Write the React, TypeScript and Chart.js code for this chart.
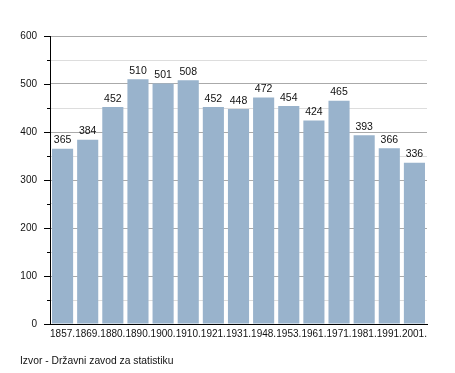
import React, { useEffect, useRef } from "react";
import { Chart, registerables } from "chart.js";

Chart.register(...registerables);

const categories = ["1857.", "1869.", "1880.", "1890.", "1900.", "1910.", "1921.", "1931.", "1948.", "1953.", "1961.", "1971.", "1981.", "1991.", "2001."];
const population = [365, 384, 452, 510, 501, 508, 452, 448, 472, 454, 424, 465, 393, 366, 336];
const sourceNote = "Izvor - Državni zavod za statistiku";
const FONT = "'Liberation Sans', Arial, sans-serif";

const extras = {
  id: "extras",
  afterDatasetsDraw(chart: any) {
    const ctx = chart.ctx;
    const meta = chart.getDatasetMeta(0);
    ctx.save();
    ctx.font = `10.5px ${FONT}`;
    ctx.fillStyle = "#111";
    ctx.textAlign = "center";
    ctx.textBaseline = "bottom";
    meta.data.forEach((el: any, i: number) => {
      ctx.fillText(String(population[i]), el.x, el.y - 3);
    });
    ctx.restore();
  },
  afterDraw(chart: any) {
    const ctx = chart.ctx;
    const y = chart.scales.y;
    const left = chart.chartArea.left;
    ctx.save();
    ctx.strokeStyle = "#000";
    ctx.lineWidth = 1;
    y.ticks.forEach((t: any) => {
      const py = Math.round(y.getPixelForValue(t.value)) + 0.5;
      const len = t.value % 100 === 0 ? 6 : 3;
      ctx.beginPath();
      ctx.moveTo(left - len, py);
      ctx.lineTo(left, py);
      ctx.stroke();
    });
    ctx.font = `10.3px ${FONT}`;
    ctx.fillStyle = "#111";
    ctx.textAlign = "left";
    ctx.textBaseline = "middle";
    ctx.fillText(sourceNote, 20, 361);
    ctx.restore();
  },
};

export default function App() {
  const ref = useRef<HTMLCanvasElement>(null);
  useEffect(() => {
    const chart = new Chart(ref.current as HTMLCanvasElement, {
      type: "bar",
      data: {
        labels: categories,
        datasets: [
          {
            data: population,
            backgroundColor: "#99B3CC",
            borderWidth: 0,
            barPercentage: 0.84,
            categoryPercentage: 1,
          },
        ],
      },
      options: {
        responsive: false,
        animation: false,
        layout: { padding: { top: 36, right: 28, bottom: 29, left: 0 } },
        plugins: { legend: { display: false }, tooltip: { enabled: false } },
        scales: {
          x: {
            grid: { display: false, drawTicks: false },
            border: { display: true, color: "#000", width: 1 },
            ticks: {
              autoSkip: false,
              maxRotation: 0,
              minRotation: 0,
              padding: 4,
              color: "#111",
              font: { family: FONT, size: 10 },
            },
            afterFit: (s: any) => {
              s.height = 20;
            },
          },
          y: {
            min: 0,
            max: 600,
            ticks: {
              stepSize: 50,
              padding: 13,
              color: "#111",
              font: { family: FONT, size: 10 },
              callback: (v: any) => (Number(v) % 100 === 0 ? String(v) : ""),
            },
            grid: {
              drawTicks: false,
              color: (c: any) => (c.tick && c.tick.value % 100 === 0 ? "#aaaaaa" : "#dddddd"),
            },
            border: { display: true, color: "#000", width: 1 },
            afterFit: (s: any) => {
              s.width = 50;
            },
          },
        },
      },
      plugins: [extras],
    });
    return () => chart.destroy();
  }, []);
  return (
    <div style={{ position: "absolute", left: 0, top: 0, width: 455, height: 373, background: "#fff" }}>
      <canvas ref={ref} width={455} height={373} />
    </div>
  );
}
